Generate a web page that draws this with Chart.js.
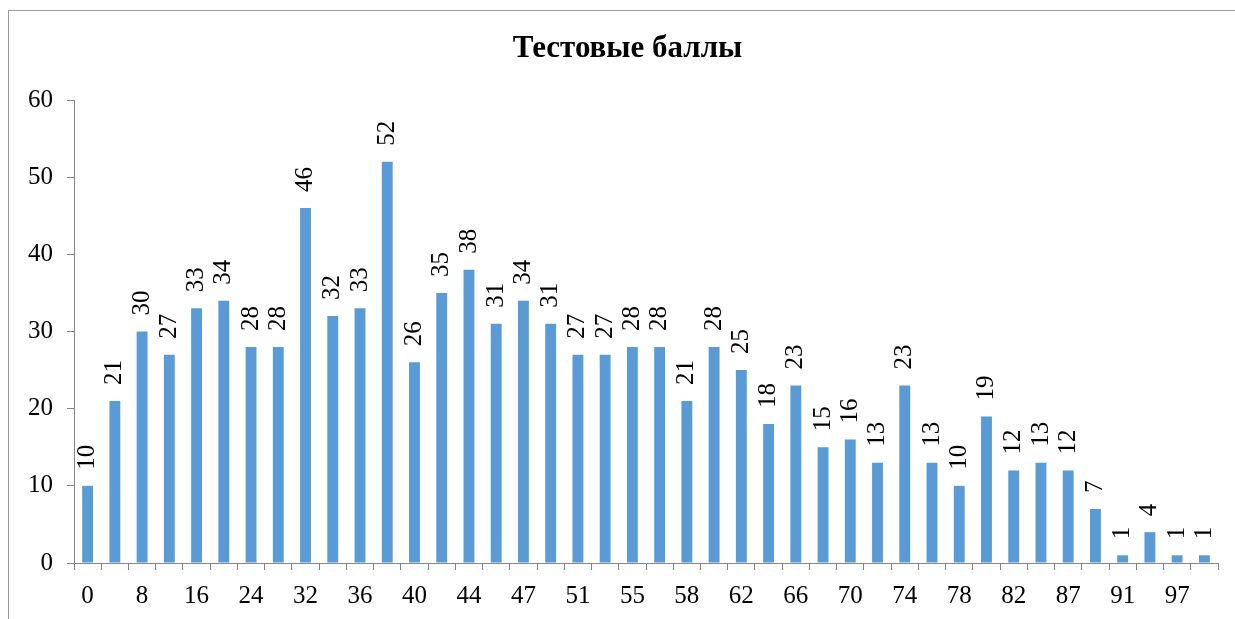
<!DOCTYPE html>
<html>
<head>
<meta charset="utf-8">
<script src="https://cdn.jsdelivr.net/npm/chart.js@4"></script>
<style>
  html, body { margin: 0; padding: 0; background: #fff; overflow: hidden; }
  #frame { position: absolute; left: 8px; top: 10px; width: 1300px; height: 700px; border: 1px solid #9a9a9a; }
  #wrap { position: absolute; left: 0; top: 0; width: 1235px; height: 619px; }
</style>
</head>
<body>
<div id="frame"></div>
<div id="wrap"><canvas id="scores-chart"></canvas></div>
<script>
// test scores (x) and how many students got them (y)
const chartTitle = 'Тестовые баллы';
const scores = ['0', '4', '8', '12', '16', '20', '24', '28', '32', '34', '36', '38', '40', '42',
  '44', '45', '47', '49', '51', '53', '55', '56', '58', '60', '62', '64', '66', '68', '70',
  '72', '74', '76', '78', '80', '82', '85', '87', '89', '91', '94', '97', '100'];
const counts = [10, 21, 30, 27, 33, 34, 28, 28, 46, 32, 33, 52, 26, 35, 38, 31, 34, 31, 27, 27,
  28, 28, 21, 28, 25, 18, 23, 15, 16, 13, 23, 13, 10, 19, 12, 13, 12, 7, 1, 4, 1, 1];
const yTicks = [0, 10, 20, 30, 40, 50, 60];

const axisColor = '#868686';
const fontFamily = "'Liberation Serif', 'Times New Roman', serif";

// title drawn by hand, it sits a bit right of the canvas centre
const titleText = {
  id: 'titleText',
  afterDraw(chart) {
    const { ctx } = chart;
    ctx.save();
    ctx.font = 'bold 31px ' + fontFamily;
    ctx.fillStyle = '#000';
    ctx.textAlign = 'center';
    ctx.textBaseline = 'middle';
    ctx.fillText(chartTitle, 627.5, 48.5);
    ctx.restore();
  }
};

// rotated value labels above each bar
const barLabels = {
  id: 'barLabels',
  afterDatasetsDraw(chart) {
    const { ctx } = chart;
    const meta = chart.getDatasetMeta(0);
    ctx.save();
    ctx.font = '25px ' + fontFamily;
    ctx.fillStyle = '#000';
    ctx.textAlign = 'left';
    ctx.textBaseline = 'middle';
    meta.data.forEach((bar, i) => {
      ctx.save();
      ctx.translate(bar.x, bar.y - 16);
      ctx.rotate(-Math.PI / 2);
      ctx.fillText(String(counts[i]), 0, 0);
      ctx.restore();
    });
    ctx.restore();
  }
};

const ctx = document.querySelector('#scores-chart').getContext('2d');
const chart = new Chart(ctx, {
  type: 'bar',
  data: {
    labels: scores,
    datasets: [
      {
        label: chartTitle,
        backgroundColor: '#5B9BD5',
        borderWidth: 0,
        data: counts,
        barPercentage: 0.4,
        categoryPercentage: 1
      }
    ]
  },
  options: {
    responsive: true,
    maintainAspectRatio: false,
    animation: false,
    layout: { padding: { left: 0, right: 17, top: 100, bottom: 0 } },
    plugins: {
      legend: { display: false },
      tooltip: { enabled: false },
      title: { display: false }
    },
    scales: {
      x: {
        afterFit: (scale) => { scale.height = 56; },
        border: { color: axisColor, width: 1 },
        grid: { offset: true, drawOnChartArea: false, tickLength: 7, color: axisColor },
        ticks: {
          autoSkip: false,
          maxRotation: 0,
          minRotation: 0,
          padding: 11,
          color: '#000',
          font: { family: fontFamily, size: 25 },
          callback: (value, index) => (index % 2 === 0 ? scores[index] : '')
        }
      },
      y: {
        min: yTicks[0],
        max: yTicks[yTicks.length - 1],
        afterFit: (scale) => { scale.width = 74; },
        afterBuildTicks: (scale) => { scale.ticks = yTicks.map((v) => ({ value: v })); },
        border: { color: axisColor, width: 1 },
        grid: { drawOnChartArea: false, tickLength: 7, color: axisColor },
        ticks: {
          padding: 14,
          color: '#000',
          font: { family: fontFamily, size: 25 }
        }
      }
    }
  },
  plugins: [titleText, barLabels]
});
</script>
</body>
</html>
